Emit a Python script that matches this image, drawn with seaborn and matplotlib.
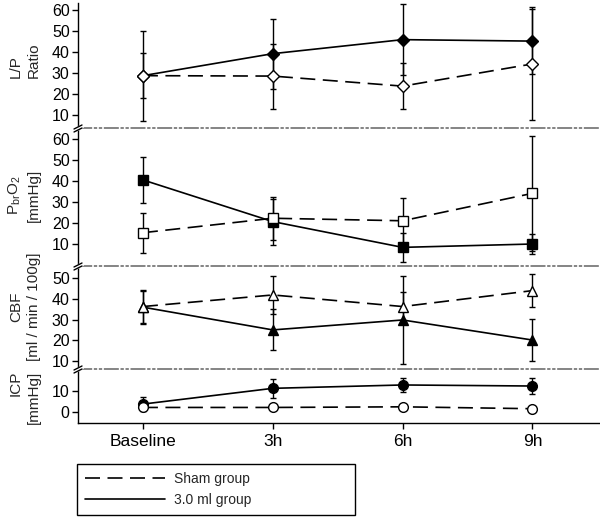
import numpy as np
import pandas as pd
import matplotlib.pyplot as plt
from matplotlib.lines import Line2D
import seaborn as sns

# Dữ liệu (trung bình ± SD)
times = ['Baseline', '3h', '6h', '9h']

lp_sham = [28.8, 28.6, 23.8, 34.4]
lp_sham_sd = [10.7, 15.5, 11.0, 27.0]
lp_vol = [28.8, 39.3, 46.0, 45.3]
lp_vol_sd = [21.5, 16.7, 17.0, 15.5]

po2_sham = [15.4, 22.3, 21.1, 34.2]
po2_sham_sd = [9.6, 10.3, 11.0, 27.5]
po2_vol = [40.6, 20.7, 8.4, 10.0]
po2_vol_sd = [11.1, 11.0, 7.0, 5.0]

cbf_sham = [36.3, 41.9, 36.3, 44.0]
cbf_sham_sd = [8.0, 9.4, 6.9, 8.0]
cbf_vol = [36.0, 25.0, 29.8, 20.1]
cbf_vol_sd = [8.0, 9.9, 21.4, 10.0]

icp_sham = [2.2, 2.2, 2.5, 1.6]
icp_sham_sd = [0.8, 0.6, 0.8, 0.6]
icp_vol = [3.8, 11.3, 12.9, 12.4]
icp_vol_sd = [3.2, 4.4, 3.4, 3.6]

group_labels = ['Sham group', '3.0 ml group']

# (nhãn, sham, sd, 3.0 ml, sd, marker, cỡ marker, ylim, yticks, vị trí nhãn, căn dòng)
panels = [
    ('L/P\nRatio', lp_sham, lp_sham_sd, lp_vol, lp_vol_sd, 'D', 6.5, (3.8, 63.5),
     [10, 20, 30, 40, 50, 60], 0.54, 'left'),
    ('P$_{\\mathregular{br}}$O$_{\\mathregular{2}}$\n[mmHg]', po2_sham, po2_sham_sd, po2_vol, po2_vol_sd, 's', 6.5,
     (-0.5, 65.4), [10, 20, 30, 40, 50, 60], 0.51, 'center'),
    ('CBF\n[ml / min / 100g]', cbf_sham, cbf_sham_sd, cbf_vol, cbf_vol_sd, '^', 7.5, (6.1, 55.9),
     [10, 20, 30, 40, 50], 0.6, 'center'),
    ('ICP\n[mmHg]', icp_sham, icp_sham_sd, icp_vol, icp_vol_sd, 'o', 7, (-5.2, 20.5), [0, 10], 0.47, 'right'),
]

sns.set_style('ticks')
plt.rcParams['font.family'] = ['Liberation Sans', 'DejaVu Sans']
plt.rcParams['mathtext.fontset'] = 'custom'
plt.rcParams['mathtext.rm'] = 'Liberation Sans'

W, H = 600, 517
fig = plt.figure(figsize=(W / 100, H / 100), dpi=100)

dash = (0, (9, 4.5))
sep_style = (0, (8, 2, 1, 2, 1, 2))
edges_px = [3, 128, 266, 369, 423]
left_px = 78
x = np.arange(len(times))

for i, (label, sham, sham_sd, vol, vol_sd, m, ms, ylim, yticks, ly, malign) in enumerate(panels):
    y0 = 1 - edges_px[i + 1] / H
    y1 = 1 - edges_px[i] / H
    ax = fig.add_axes([left_px / W, y0, 1 - left_px / W, y1 - y0])

    for vals, sd in ((vol, vol_sd), (sham, sham_sd)):
        ax.errorbar(x, vals, yerr=sd, fmt='none', ecolor='black',
                    elinewidth=1, capsize=2.5, capthick=1, zorder=2)

    for vals, face, ls in ((vol, 'black', '-'), (sham, 'white', dash)):
        sns.lineplot(x=x, y=vals, ax=ax, color='black', lw=1.2, linestyle=ls,
                     marker=m, markersize=ms, markerfacecolor=face,
                     markeredgecolor='black', markeredgewidth=1, zorder=3)

    ax.set_xlim(-0.5, 3.52)
    ax.set_ylim(*ylim)
    ax.set_yticks(yticks)
    ax.set_ylabel(label, fontsize=11, linespacing=1.35, multialignment=malign)
    ax.yaxis.set_label_coords(-0.071, ly)
    ax.tick_params(axis='y', direction='out', length=4, width=1, labelsize=11.5, colors='black', pad=2)

    ax.spines['right'].set_visible(False)
    ax.spines['left'].set_color('black')
    ax.spines['left'].set_linewidth(1)
    if i == 0:
        ax.spines['top'].set_visible(False)
    else:
        ax.spines['top'].set_linestyle(sep_style)
        ax.spines['top'].set_color('#707070')
        ax.spines['top'].set_linewidth(1.2)
    if i == len(panels) - 1:
        ax.spines['bottom'].set_color('black')
        ax.spines['bottom'].set_linewidth(1)
        ax.set_xticks(x)
        ax.set_xticklabels(times)
        ax.tick_params(axis='x', direction='out', length=4, width=1, labelsize=12.5, colors='black', pad=4)
    else:
        ax.spines['bottom'].set_visible(False)
        ax.set_xticks([])

# Dấu ngắt trục
for b in edges_px[1:4]:
    xs = [(left_px - 4) / W, (left_px + 4) / W]
    fig.add_artist(Line2D(xs, [1 - (b + 2.5) / H, 1 - (b - 1.5) / H], transform=fig.transFigure,
                          color='white', lw=3))
    for off in (-1.5, 1.5):
        fig.add_artist(Line2D(xs, [1 - (b + 2.5 + off) / H, 1 - (b - 1.5 + off) / H],
                              transform=fig.transFigure, color='black', lw=1))

handles = [Line2D([], [], color='black', lw=1.2, linestyle=dash),
           Line2D([], [], color='black', lw=1.2)]
leg = fig.legend(handles, group_labels, loc='upper left',
                 bbox_to_anchor=(77 / W, 1 - 464 / H, (355 - 77) / W, 0.0001),
                 mode='expand', fancybox=False, frameon=True, framealpha=1,
                 edgecolor='black', fontsize=10, handlelength=5.7, handletextpad=0.7,
                 labelspacing=0.45, borderpad=0.6, borderaxespad=0)
leg.get_frame().set_linewidth(1)

plt.savefig('out.png', dpi=100)
